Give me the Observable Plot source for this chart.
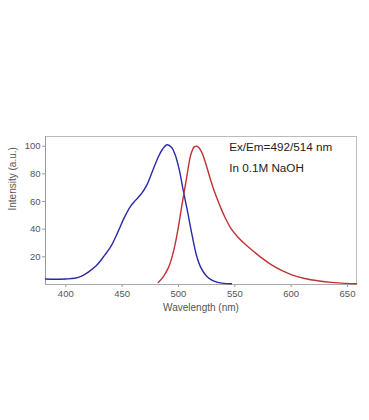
<!DOCTYPE html>
<html>
<head>
<meta charset="utf-8">
<script src="https://cdn.jsdelivr.net/npm/d3@7"></script>
<script src="https://cdn.jsdelivr.net/npm/@observablehq/plot@0.6"></script>
<style>
html,body{margin:0;padding:0;background:#fff;}
#chart svg{display:block;}
</style>
</head>
<body>
<div id="chart"></div>
<script>
const exWavelength = [382,390,400,408,414,420,427,433,440,446,452,457,462,467,472,477,482,486,490,494,497,501,504,508,512,516,520,525,530,535,540,547];
const exIntensity  = [4,3.8,4,4.5,6,9,13.5,19.5,27.5,37.5,48.5,56,61,65.5,72,82,92,98,101,99,94,82,69,53,36,21,12,6,3,1.5,0.8,0.5];
const emWavelength = [482,486,491,494,497,500,503,507,511,514,516,518,521,524,528,532,537,541,547,553,560,567,575,583,592,600,612,625,636,648,658];
const emIntensity  = [1.5,5,12,19,29,42,57,76,94,99.5,100,99,95,88,77,67,56.5,49,40,34,28.5,23.7,18.5,14,10,7.2,4.3,2.5,1.5,0.8,0.5];
const xTicks = [400,450,500,550,600,650];
const yTicks = [20,40,60,80,100];
const notes = ["Ex/Em=492/514 nm", "In 0.1M NaOH"];

const ex = exWavelength.map((w,i)=>({w, v: exIntensity[i]}));
const em = emWavelength.map((w,i)=>({w, v: emIntensity[i]}));

const chart = Plot.plot({
  width: 369,
  height: 420,
  marginLeft: 45,
  marginRight: 13,
  marginTop: 136,
  marginBottom: 136,
  style: {fontFamily: "Liberation Sans, Arial, sans-serif", fontSize: "9.5px", color: "#555", background: "#fff"},
  x: {domain: [382, 658], ticks: xTicks, label: null},
  y: {domain: [0, 107], ticks: yTicks, label: null},
  marks: [
    Plot.frame({stroke: "#bbb", strokeWidth: 1}),
    Plot.axisX({ticks: xTicks, tickSize: 3, tickPadding: 3, stroke: "#999", fill: "#555", fontSize: 9.5, label: null}),
    Plot.axisY({ticks: yTicks, tickSize: 3, tickPadding: 2, stroke: "#999", fill: "#555", fontSize: 9.5, label: null}),
    Plot.ruleX([382], {stroke: "#999"}),
    Plot.ruleY([0], {stroke: "#aaa"}),
    Plot.line(ex, {x: "w", y: "v", stroke: "#2a2aa8", strokeWidth: 1.4, curve: "catmull-rom"}),
    Plot.line(em, {x: "w", y: "v", stroke: "#c03232", strokeWidth: 1.4, curve: "catmull-rom"}),
    Plot.text([notes[0]], {x: 545, y: 99.5, text: d => d, textAnchor: "start", fontSize: 11.7, fill: "#222"}),
    Plot.text([notes[1]], {x: 545, y: 84, text: d => d, textAnchor: "start", fontSize: 11.7, fill: "#222"}),
    Plot.text(["Wavelength (nm)"], {frameAnchor: "bottom", lineAnchor: "middle", dy: 23, text: d => d, fontSize: 10, fill: "#555"}),
    Plot.text(["Intensity (a.u.)"], {frameAnchor: "left", dx: -33, rotate: -90, text: d => d, fontSize: 10, fill: "#555"})
  ]
});
document.getElementById("chart").appendChild(chart);
</script>
</body>
</html>
